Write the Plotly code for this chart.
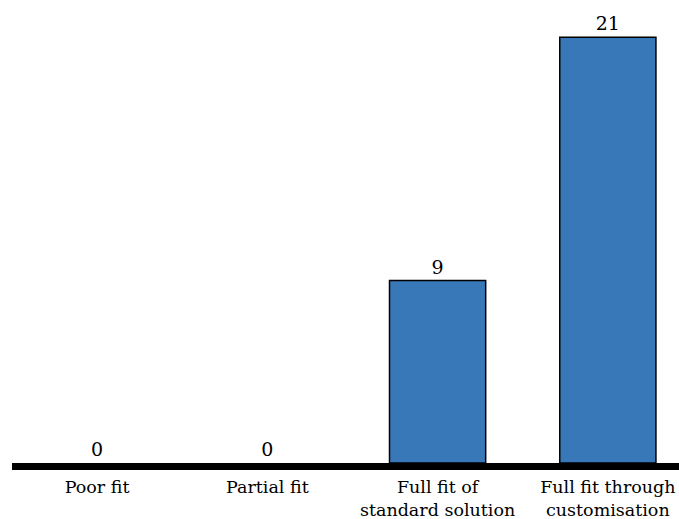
import plotly.graph_objects as go

# Fit categories and number of responses in each
categories = ["Poor fit", "Partial fit", "Full fit of<br>standard solution",
              "Full fit through<br>customisation"]
counts = [0, 0, 9, 21]

SERIF = "Georgia, 'DejaVu Serif', serif"

# Empty categories get no outline so nothing is drawn on the baseline
outline_widths = [1.5 if v > 0 else 0 for v in counts]

fig = go.Figure(
    go.Bar(
        x=categories,
        y=counts,
        width=0.565,
        marker=dict(color="#3878B8", line=dict(color="black", width=outline_widths)),
        text=[str(v) for v in counts],
        textposition="outside",
        textfont=dict(family=SERIF, size=19, color="black"),
        cliponaxis=False,
    )
)

fig.update_layout(
    width=679,
    height=519,
    margin=dict(l=12, r=0, t=10, b=56),
    plot_bgcolor="white",
    paper_bgcolor="white",
    showlegend=False,
    xaxis=dict(
        range=[-0.5, 3.418],
        showline=True,
        linecolor="black",
        linewidth=7,
        ticks="",
        showgrid=False,
        automargin=False,
        tickfont=dict(family=SERIF, size=17.5, color="black"),
        ticklabelstandoff=2,
    ),
    yaxis=dict(
        range=[0, 22.35],
        visible=False,
        showgrid=False,
        automargin=False,
    ),
)

fig.write_html("out.html")
